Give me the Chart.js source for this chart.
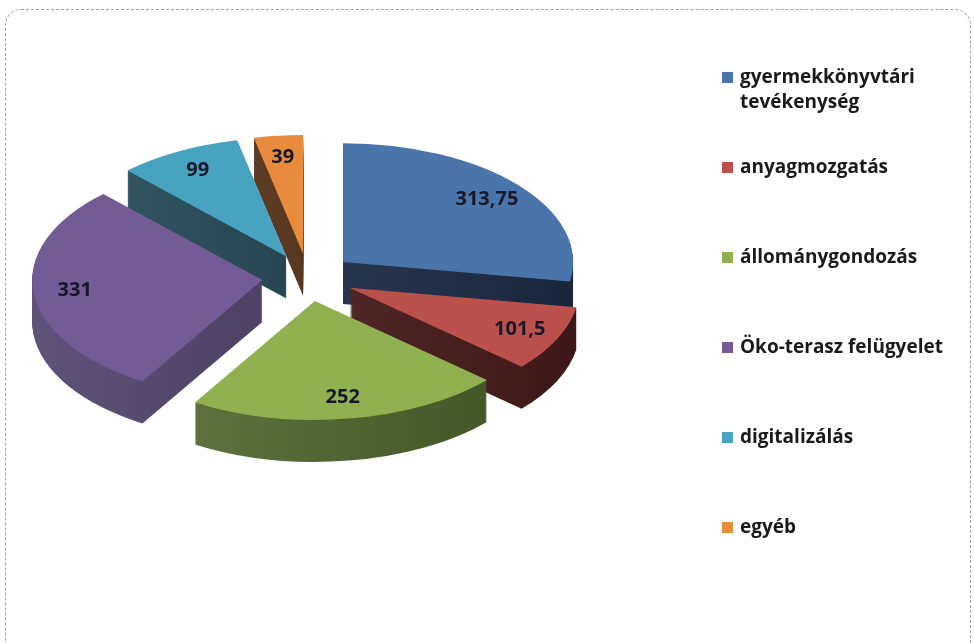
<!DOCTYPE html>
<html>
<head>
<meta charset="utf-8">
<script src="https://cdn.jsdelivr.net/npm/chart.js@4.4.0/dist/chart.umd.min.js"></script>
<style>
  html, body { margin: 0; padding: 0; background: #fff; }
  .frame {
    position: absolute; left: 5px; top: 9px; width: 966px; height: 650px;
    border: 1px dashed #a0a0a0; border-radius: 16px; box-sizing: border-box;
  }
  .wrap { position: absolute; left: 0; top: 0; width: 974px; height: 643px; }
  .legend {
    position: absolute; left: 722px; top: 64px;
    font-family: "Open Sans", sans-serif; font-weight: 700; font-size: 19px; color: #1a1a1a;
  }
  .legend .item { position: absolute; left: 0; white-space: nowrap; line-height: 25px; }
  .legend .sw { position: absolute; left: 0; top: 8px; width: 11px; height: 11px; }
  .legend .txt { position: absolute; left: 18px; top: 0; }
</style>
</head>
<body>
<div class="frame"></div>
<div class="wrap"><canvas id="pieChart" width="974" height="643"></canvas></div>
<div class="legend" id="legend"></div>
<script>
// chart data
const categories = [
  "gyermekkönyvtári tevékenység",
  "anyagmozgatás",
  "állománygondozás",
  "Öko-terasz felügyelet",
  "digitalizálás",
  "egyéb"
];
const values = [313.75, 101.5, 252, 331, 99, 39];
const valueLabels = ["313,75", "101,5", "252", "331", "99", "39"];
const topColors = ["#4a75ab", "#bb504c", "#91b050", "#735b96", "#47a3bf", "#e88b3d"];
const sideColors = ["#1f3150", "#521d1d", "#566f2e", "#4f3f6b", "#1d4654", "#5c3416"];

// 3d look
const TILT = 0.517;   // vertical squash of the pie
const DEPTH = 42;     // side height in px
const EXPLODE = 46;   // distance each slice is pulled out

function slicePos(arc) {
  const mid = (arc.startAngle + arc.endAngle) / 2;
  return { dx: Math.cos(mid) * EXPLODE, dy: Math.sin(mid) * EXPLODE, mid: mid };
}

function shade(hex, f) {
  const n = parseInt(hex.slice(1), 16);
  const c = [(n >> 16) & 255, (n >> 8) & 255, n & 255].map((v) =>
    Math.round(f > 0 ? v + (255 - v) * f : v * (1 + f))
  );
  return "rgb(" + c.join(",") + ")";
}

const pie3d = {
  id: "pie3d",
  beforeDatasetsDraw(chart) {
    const ctx = chart.ctx;
    const arcs = chart.getDatasetMeta(0).data;
    const cx = arcs[0].x, cy = arcs[0].y;
    const r = arcs[0].outerRadius;
    ctx.save();
    ctx.translate(cx, cy);
    ctx.scale(1, TILT);
    ctx.translate(-cx, -cy);

    const fills = sideColors.map((c) => {
      const g = ctx.createLinearGradient(cx - r - EXPLODE, 0, cx + r + EXPLODE, 0);
      g.addColorStop(0, shade(c, 0.12));
      g.addColorStop(1, shade(c, -0.3));
      return g;
    });

    // side walls: same slice drawn again and again lower down
    for (let d = DEPTH; d > 0; d--) {
      arcs.forEach((arc, i) => {
        const p = slicePos(arc);
        const side = Object.create(arc);
        side.options = Object.assign({}, arc.options, {
          backgroundColor: fills[i], borderWidth: 0
        });
        ctx.save();
        ctx.translate(p.dx, p.dy + d / TILT);
        side.draw(ctx);
        ctx.restore();
      });
    }
    // top faces
    arcs.forEach((arc) => {
      const p = slicePos(arc);
      ctx.save();
      ctx.translate(p.dx, p.dy);
      arc.draw(ctx);
      ctx.restore();
    });
    ctx.restore();
    return false;
  },
  afterDraw(chart) {
    const ctx = chart.ctx;
    const arcs = chart.getDatasetMeta(0).data;
    const cx = arcs[0].x, cy = arcs[0].y;
    ctx.save();
    ctx.font = "700 20px 'Open Sans', sans-serif";
    ctx.fillStyle = "#16182a";
    ctx.textAlign = "center";
    ctx.textBaseline = "middle";
    arcs.forEach((arc, i) => {
      const p = slicePos(arc);
      const r = arc.outerRadius * 0.82;
      const x = cx + p.dx + Math.cos(p.mid) * r;
      const y = cy + (p.dy + Math.sin(p.mid) * r) * TILT;
      ctx.fillText(valueLabels[i], x, y);
    });
    ctx.restore();
  }
};

new Chart(document.getElementById("pieChart"), {
  type: "pie",
  data: {
    labels: categories,
    datasets: [
      {
        data: values,
        backgroundColor: topColors,
        borderWidth: 0,
        offset: 0,
      },
    ],
  },
  options: {
    responsive: false,
    animation: false,
    radius: 230,
    layout: {
      padding: { left: 0, right: 358, top: 0, bottom: 88 },
    },
    plugins: {
      legend: { display: false },
      tooltip: { enabled: false },
    },
  },
  plugins: [pie3d],
});

// legend on the right
const legendEl = document.getElementById("legend");
const legendRows = [0, 90, 180, 270, 360, 450];
categories.forEach((name, i) => {
  const item = document.createElement("div");
  item.className = "item";
  item.style.top = legendRows[i] + "px";
  const sw = document.createElement("span");
  sw.className = "sw";
  sw.style.background = topColors[i];
  const txt = document.createElement("span");
  txt.className = "txt";
  txt.innerHTML = i === 0 ? "gyermekkönyvtári<br>tevékenység" : name;
  item.appendChild(sw);
  item.appendChild(txt);
  legendEl.appendChild(item);
});
</script>
</body>
</html>
